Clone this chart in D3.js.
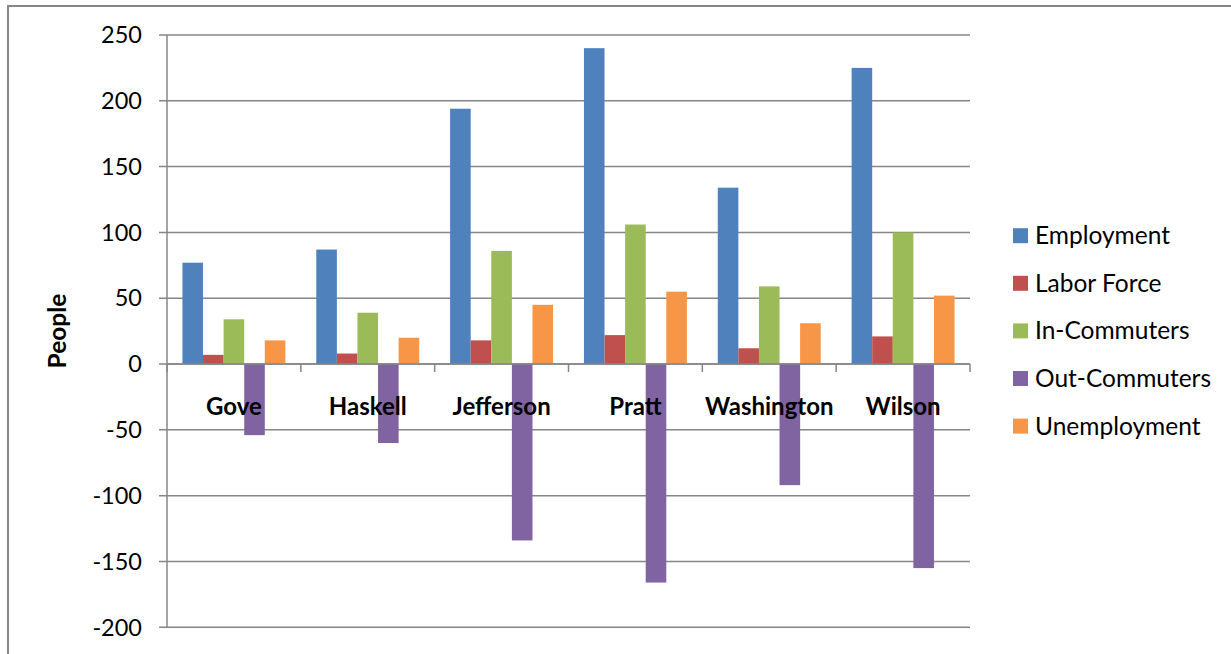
<!DOCTYPE html>
<html>
<head>
<meta charset="utf-8">
<script src="https://cdn.jsdelivr.net/npm/d3@7"></script>
<style>
  html, body { margin: 0; padding: 0; background: #fff; }
  svg { display: block; }
  text { font-family: Lato, "Open Sans", sans-serif; fill: #000; }
</style>
</head>
<body>
<svg id="chart" width="1231" height="654"></svg>
<script>
// Counties along the category axis
const counties = ["Gove", "Haskell", "Jefferson", "Pratt", "Washington", "Wilson"];

// Series, one value per county
const seriesNames = ["Employment", "Labor Force", "In-Commuters", "Out-Commuters", "Unemployment"];
const employment    = [77, 87, 194, 240, 134, 225];
const laborForce    = [7, 8, 18, 22, 12, 21];
const inCommuters   = [34, 39, 86, 106, 59, 100];
const outCommuters  = [-54, -60, -134, -166, -92, -155];
const unemployment  = [18, 20, 45, 55, 31, 52];

const yTicks = [250, 200, 150, 100, 50, 0, -50, -100, -150, -200];
const colors = ["#4F81BD", "#C0504D", "#9BBB59", "#8064A2", "#F79646"];

const seriesValues = [employment, laborForce, inCommuters, outCommuters, unemployment];

const svg = d3.select("#chart");
const gridColor = "#868686";

// Outer chart frame (top and left edges visible)
svg.append("path")
  .attr("d", "M8,654 L8,6 L1231,6")
  .attr("fill", "none")
  .attr("stroke", gridColor)
  .attr("stroke-width", 2);

const plot = { left: 167, right: 970, top: 35, bottom: 627.3 };

const y = d3.scaleLinear().domain([-200, 250]).range([plot.bottom, plot.top]);
const x = d3.scaleBand().domain(counties).range([plot.left, plot.right]).paddingInner(0).paddingOuter(0);

// Bars within each category: 5 bars, gap width 150%
const step = x.bandwidth();
const barW = step / 6.5;
const xInner = d3.scaleBand()
  .domain(seriesNames)
  .range([0.75 * barW, 0.75 * barW + 5 * barW]);

// Horizontal gridlines
svg.append("g")
  .selectAll("line")
  .data(yTicks)
  .join("line")
  .attr("x1", plot.left - 8)
  .attr("x2", plot.right)
  .attr("y1", d => y(d))
  .attr("y2", d => y(d))
  .attr("stroke", gridColor)
  .attr("stroke-width", 1.5);

// Y axis line
svg.append("line")
  .attr("x1", plot.left).attr("x2", plot.left)
  .attr("y1", plot.top).attr("y2", plot.bottom)
  .attr("stroke", gridColor).attr("stroke-width", 1.5);

// Y tick labels
svg.append("g")
  .selectAll("text")
  .data(yTicks)
  .join("text")
  .attr("x", 142)
  .attr("y", d => y(d))
  .attr("dy", "0.35em")
  .attr("text-anchor", "end")
  .attr("font-size", 23.5)
  .text(d => d);

// Bars
const rows = [];
seriesNames.forEach((s, si) => {
  counties.forEach((c, ci) => {
    rows.push({ series: s, county: c, value: seriesValues[si][ci], color: colors[si] });
  });
});

svg.append("g")
  .selectAll("rect")
  .data(rows)
  .join("rect")
  .attr("x", d => x(d.county) + xInner(d.series))
  .attr("width", xInner.bandwidth())
  .attr("y", d => y(Math.max(0, d.value)))
  .attr("height", d => Math.abs(y(d.value) - y(0)))
  .attr("fill", d => d.color);

// X axis line at zero with category tick marks
svg.append("line")
  .attr("x1", plot.left).attr("x2", plot.right)
  .attr("y1", y(0)).attr("y2", y(0))
  .attr("stroke", gridColor).attr("stroke-width", 1.5);

const boundaries = counties.map(c => x(c)).concat([plot.right]);
svg.append("g")
  .selectAll("line")
  .data(boundaries)
  .join("line")
  .attr("x1", d => d).attr("x2", d => d)
  .attr("y1", y(0)).attr("y2", y(0) + 8)
  .attr("stroke", gridColor).attr("stroke-width", 1.5);

// Category labels
svg.append("g")
  .selectAll("text")
  .data(counties)
  .join("text")
  .attr("x", d => x(d) + step / 2)
  .attr("y", 415)
  .attr("text-anchor", "middle")
  .attr("font-size", 24)
  .attr("font-weight", "bold")
  .text(d => d);

// Y axis title
svg.append("text")
  .attr("transform", "translate(66,331) rotate(-90)")
  .attr("text-anchor", "middle")
  .attr("font-size", 24.5)
  .attr("font-weight", "bold")
  .text("People");

// Legend
const legend = svg.append("g")
  .selectAll("g")
  .data(seriesNames)
  .join("g")
  .attr("transform", (d, i) => `translate(1013, ${235.7 + i * 47.6})`);

legend.append("rect")
  .attr("x", 0).attr("y", -7.5)
  .attr("width", 15).attr("height", 15)
  .attr("fill", (d, i) => colors[i]);

legend.append("text")
  .attr("x", 22)
  .attr("y", 0)
  .attr("dy", "0.35em")
  .attr("font-size", 24.5)
  .text(d => d);
</script>
</body>
</html>
